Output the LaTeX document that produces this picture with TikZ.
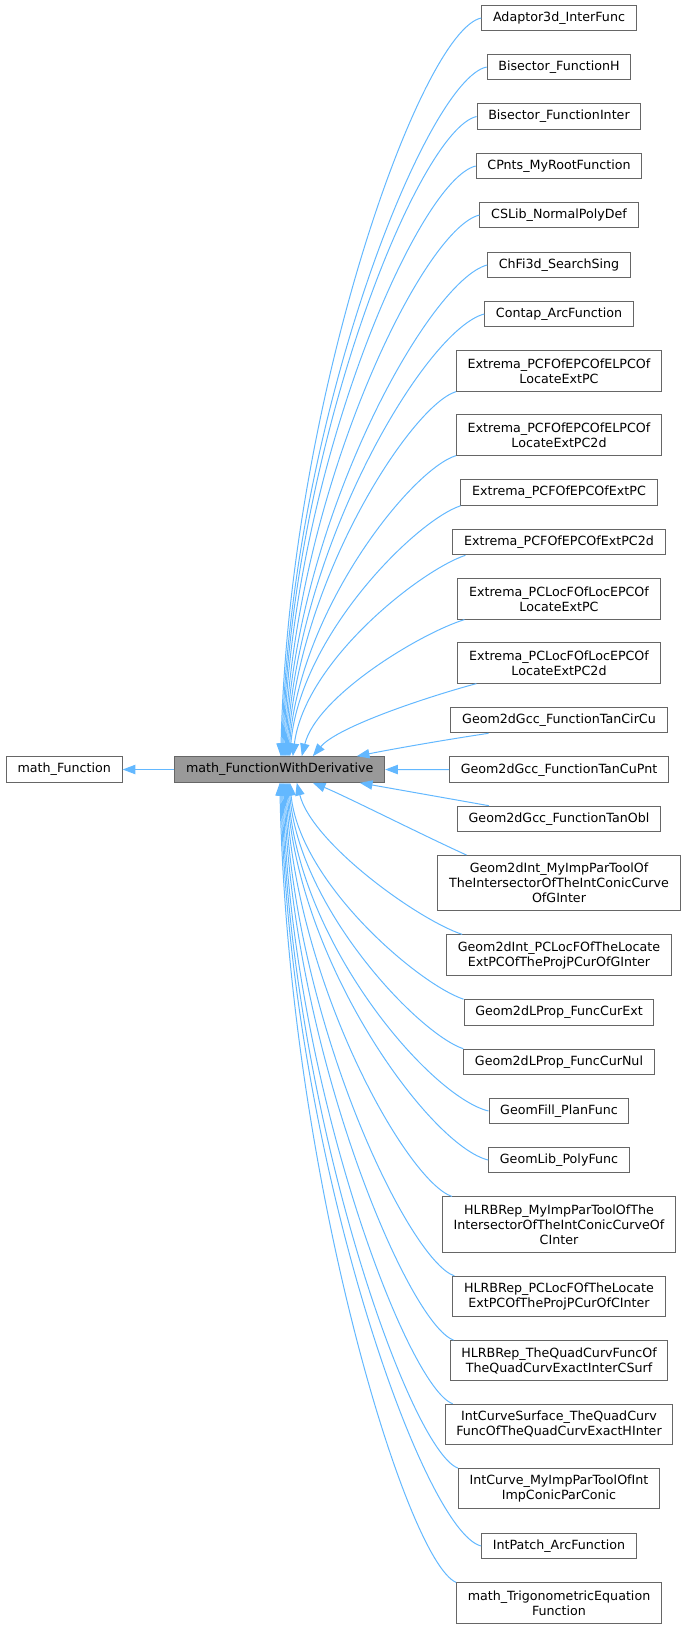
\documentclass[tikz,border=0pt]{standalone}
\usepackage{fontspec}
\setmainfont{DejaVu Sans}
\usetikzlibrary{calc}
\usetikzlibrary{arrows.meta}

\definecolor{edgeblue}{HTML}{63B8FF}
\definecolor{boxgray}{HTML}{666666}
\definecolor{curgray}{HTML}{999999}

\begin{document}
\begin{tikzpicture}[
    x = 0.75pt, y = -0.75pt,
    cls/.style = {shape = rectangle, draw = boxgray, fill = white, line width = 0.75pt, font = \fontsize{9.5pt}{11.25pt}\selectfont, align = center, inner xsep = 8.4pt, inner ysep = 0pt, minimum height = 19.2pt},
    cls2/.style = {cls, minimum height = 30.2pt},
    cls3/.style = {cls, minimum height = 41.3pt},
    cur/.style = {cls, fill = curgray},
    inh/.style = {draw = edgeblue, line width = 0.75pt, -{Triangle[length = 9.5pt, width = 7pt]}},
    ]
    \useasboundingbox (0, 0) rectangle (688, 1629);

    \node[cls] (G) at (64.3, 769.5) {math\_Function};
    \node[cur] (P) at (279.8, 769.5) {math\_FunctionWithDerivative};

    \node[cls] (C1) at (559, 18) {Adaptor3d\_InterFunc};
    \node[cls] (C2) at (559, 67) {Bisector\_FunctionH};
    \node[cls] (C3) at (559, 116.5) {Bisector\_FunctionInter};
    \node[cls] (C4) at (559, 166) {CPnts\_MyRootFunction};
    \node[cls] (C5) at (559, 215) {CSLib\_NormalPolyDef};
    \node[cls] (C6) at (559, 265) {ChFi3d\_SearchSing};
    \node[cls] (C7) at (559, 314) {Contap\_ArcFunction};
    \node[cls2] (C8) at (559, 371) {Extrema\_PCFOfEPCOfELPCOf\\LocateExtPC};
    \node[cls2] (C9) at (559, 435) {Extrema\_PCFOfEPCOfELPCOf\\LocateExtPC2d};
    \node[cls] (C10) at (559, 492.5) {Extrema\_PCFOfEPCOfExtPC};
    \node[cls] (C11) at (559, 542) {Extrema\_PCFOfEPCOfExtPC2d};
    \node[cls2] (C12) at (559, 599) {Extrema\_PCLocFOfLocEPCOf\\LocateExtPC};
    \node[cls2] (C13) at (559, 663) {Extrema\_PCLocFOfLocEPCOf\\LocateExtPC2d};
    \node[cls] (C14) at (559, 720) {Geom2dGcc\_FunctionTanCirCu};
    \node[cls] (C15) at (559, 769.7) {Geom2dGcc\_FunctionTanCuPnt};
    \node[cls] (C16) at (559, 819) {Geom2dGcc\_FunctionTanObl};
    \node[cls3] (C17) at (559, 883) {Geom2dInt\_MyImpParToolOf\\TheIntersectorOfTheIntConicCurve\\OfGInter};
    \node[cls2] (C18) at (559, 955) {Geom2dInt\_PCLocFOfTheLocate\\ExtPCOfTheProjPCurOfGInter};
    \node[cls] (C19) at (559, 1012.5) {Geom2dLProp\_FuncCurExt};
    \node[cls] (C20) at (559, 1062) {Geom2dLProp\_FuncCurNul};
    \node[cls] (C21) at (559, 1111) {GeomFill\_PlanFunc};
    \node[cls] (C22) at (559, 1160) {GeomLib\_PolyFunc};
    \node[cls3] (C23) at (559, 1224.5) {HLRBRep\_MyImpParToolOfThe\\IntersectorOfTheIntConicCurveOf\\CInter};
    \node[cls2] (C24) at (559, 1296.5) {HLRBRep\_PCLocFOfTheLocate\\ExtPCOfTheProjPCurOfCInter};
    \node[cls2] (C25) at (559, 1360.7) {HLRBRep\_TheQuadCurvFuncOf\\TheQuadCurvExactInterCSurf};
    \node[cls2] (C26) at (559, 1424.3) {IntCurveSurface\_TheQuadCurv\\FuncOfTheQuadCurvExactHInter};
    \node[cls2] (C27) at (559, 1488.7) {IntCurve\_MyImpParToolOfInt\\ImpConicParConic};
    \node[cls] (C28) at (559, 1546) {IntPatch\_ArcFunction};
    \node[cls2] (C29) at (559, 1603) {math\_TrigonometricEquation\\Function};

    % base class
    \draw[inh] (P) -- (G);

    % upper children, into the top side
    \draw[inh] (C1.west) .. controls +(-60, 12) and +(8, -357) .. ($(P.north)+(1, 0)$);
    \draw[inh] (C2.west) .. controls +(-60, 12) and +(8, -335) .. ($(P.north)+(2, 0)$);
    \draw[inh] (C3.west) .. controls +(-58, 13) and +(8, -310) .. ($(P.north)+(3, 0)$);
    \draw[inh] (C4.west) .. controls +(-58, 14) and +(8, -285) .. ($(P.north)+(4, 0)$);
    \draw[inh] (C5.west) .. controls +(-58, 14) and +(9, -260) .. ($(P.north)+(5, 0)$);
    \draw[inh] (C6.west) .. controls +(-58, 15) and +(9, -235) .. ($(P.north)+(6, 0)$);
    \draw[inh] (C7.west) .. controls +(-58, 15) and +(10, -210) .. ($(P.north)+(7, 0)$);
    \draw[inh] (C8.south west) .. controls +(-45, 14) and +(10, -175) .. ($(P.north)+(8, 0)$);
    \draw[inh] (C9.south west) .. controls +(-45, 14) and +(10, -145) .. ($(P.north)+(9, 0)$);
    \draw[inh] (C10.south west) .. controls +(-45, 15) and +(10, -120) .. ($(P.north)+(10, 0)$);
    \draw[inh] ($(C11.south west)+(13, 0)$) .. controls +(-45, 15) and +(12, -95) .. ($(P.north)+(13, 0)$);
    \draw[inh] ($(C12.south west)+(7, 0)$) .. controls +(-45, 14) and +(15, -60) .. ($(P.north)+(22, 0)$);
    \draw[inh] ($(C13.south west)+(19, 0)$) .. controls +(-45, 12) and +(25, -30) .. ($(P.north)+(33, 0)$);
    \draw[inh] ($(C14.south west)+(38, 0)$) .. controls +(-40, 6) and +(40, -8) .. ($(P.north)+(77, 0)$);

    % middle children
    \draw[inh] (C15.west) -- (P.east);
    \draw[inh] ($(C16.north west)+(32, 0)$) -- ($(P.south)+(80, 0)$);
    \draw[inh] ($(C17.north west)+(29, 0)$) .. controls +(-40, -18) and +(30, 12) .. ($(P.south)+(33, 0)$);
    \draw[inh] ($(C18.north west)+(16, 0)$) .. controls +(-45, -15) and +(15, 60) .. ($(P.south)+(17, 0)$);

    % lower children, into the bottom side
    \draw[inh] (C19.north west) .. controls +(-45, -15) and +(10, 100) .. ($(P.south)+(10, 0)$);
    \draw[inh] (C20.north west) .. controls +(-45, -15) and +(10, 125) .. ($(P.south)+(9, 0)$);
    \draw[inh] (C21.west) .. controls +(-58, -14) and +(10, 160) .. ($(P.south)+(8, 0)$);
    \draw[inh] (C22.west) .. controls +(-58, -14) and +(10, 180) .. ($(P.south)+(7, 0)$);
    \draw[inh] ($(C23.north west)+(10, 0)$) .. controls +(-45, -15) and +(9, 200) .. ($(P.south)+(6, 0)$);
    \draw[inh] ($(C24.north west)+(2, 0)$) .. controls +(-45, -15) and +(9, 240) .. ($(P.south)+(5, 0)$);
    \draw[inh] ($(C25.north west)+(4, 0)$) .. controls +(-45, -16) and +(9, 270) .. ($(P.south)+(4, 0)$);
    \draw[inh] ($(C26.north west)+(8, 0)$) .. controls +(-45, -16) and +(8, 300) .. ($(P.south)+(3, 0)$);
    \draw[inh] (C27.north west) .. controls +(-48, -18) and +(8, 330) .. ($(P.south)+(2, 0)$);
    \draw[inh] (C28.west) .. controls +(-58, -14) and +(8, 370) .. ($(P.south)+(1, 0)$);
    \draw[inh] (C29.north west) .. controls +(-50, -22) and +(8, 390) .. ($(P.south)+(0, 0)$);
\end{tikzpicture}
\end{document}
